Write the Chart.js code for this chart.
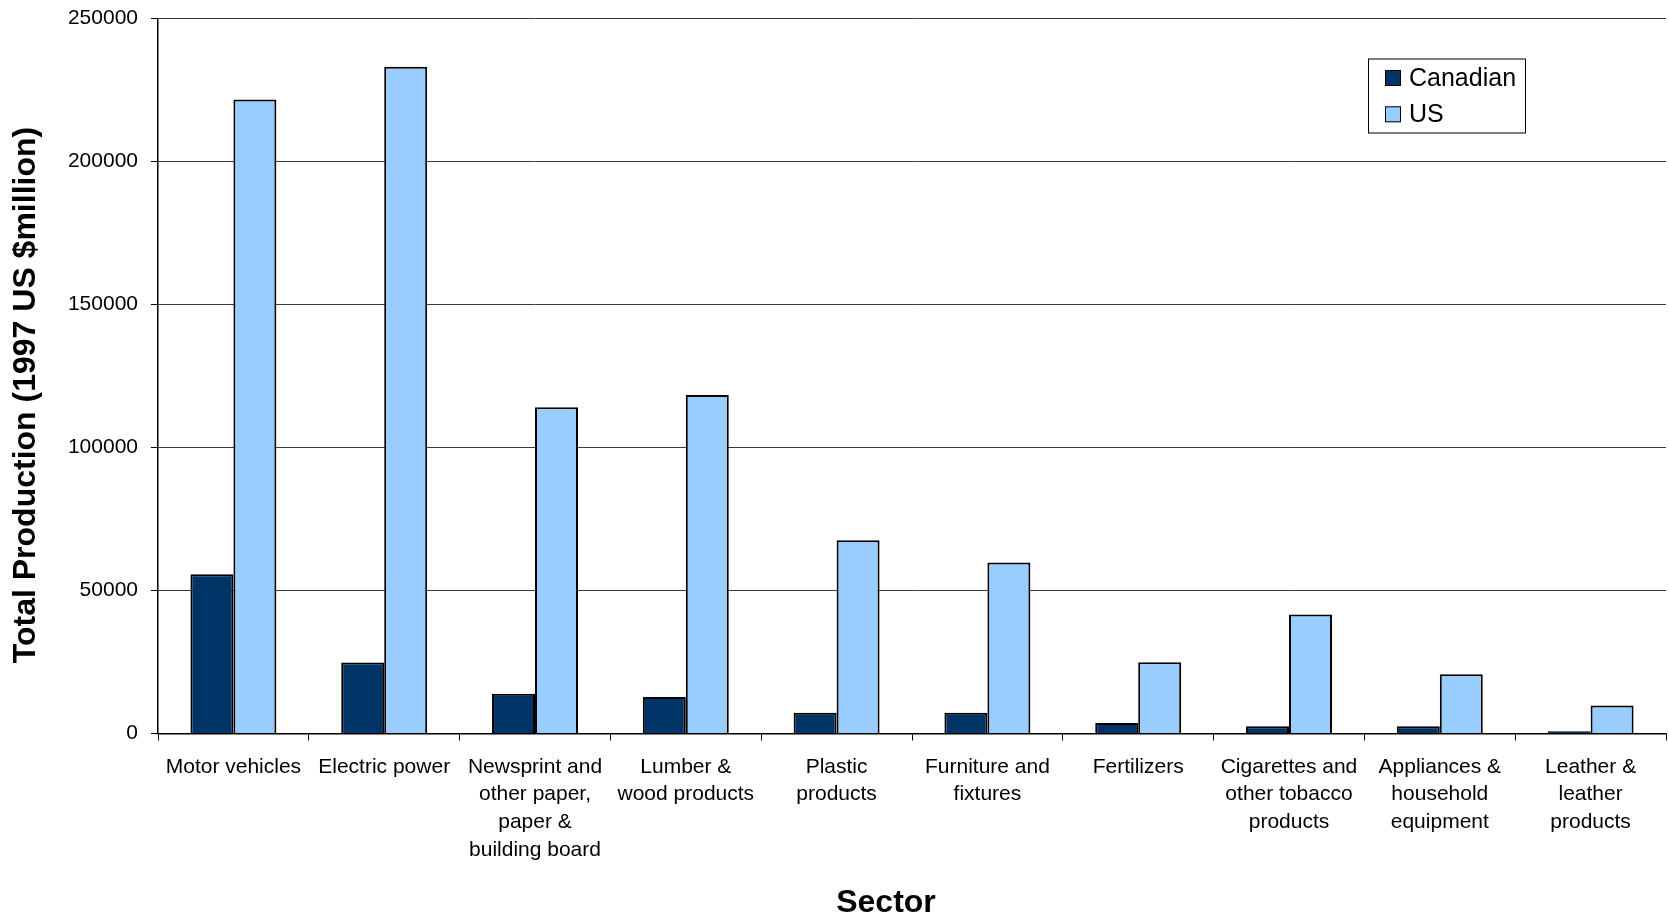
<!DOCTYPE html>
<html>
<head>
<meta charset="utf-8">
<title>Total Production by Sector</title>
<script src="https://cdn.jsdelivr.net/npm/chart.js@4.4.1/dist/chart.umd.min.js"></script>
<style>
  html, body { margin: 0; padding: 0; background: #ffffff; }
  #wrap { width: 1669px; height: 915px; position: relative; }
  canvas { display: block; }
</style>
</head>
<body>
<div id="wrap"><canvas id="chart" width="1669" height="915"></canvas></div>
<script>
// Sectors (x-axis categories), each split into display lines
const sectors = [
  ['Motor vehicles'],
  ['Electric power'],
  ['Newsprint and', 'other paper,', 'paper &', 'building board'],
  ['Lumber &', 'wood products'],
  ['Plastic', 'products'],
  ['Furniture and', 'fixtures'],
  ['Fertilizers'],
  ['Cigarettes and', 'other tobacco', 'products'],
  ['Appliances &', 'household', 'equipment'],
  ['Leather &', 'leather', 'products']
];

// Total production, 1997 US $million
const canadian = [55700, 24800, 13900, 12800, 7300, 7300, 3700, 2500, 2500, 800];
const us = [221700, 233200, 114100, 118400, 67600, 59800, 24900, 41600, 20700, 9800];

const seriesNames = ['Canadian', 'US'];
const seriesColors = ['#003366', '#99CCFF'];

const yTicks = [0, 50000, 100000, 150000, 200000, 250000];
const yTitle = 'Total Production (1997 US $million)';
const xTitle = 'Sector';

const FONT = '"Liberation Sans", Arial, Helvetica, sans-serif';

// Boxed legend in the upper right of the plot
const boxedLegend = {
  id: 'boxedLegend',
  afterDraw(chart) {
    const ctx = chart.ctx;
    const x0 = 1368, y0 = 58.5, w = 157, h = 74;
    ctx.save();
    ctx.fillStyle = '#ffffff';
    ctx.fillRect(x0, y0, w, h);
    ctx.strokeStyle = '#000000';
    ctx.lineWidth = 1;
    ctx.strokeRect(x0 + 0.5, y0 + 0.5, w, h);
    ctx.font = '25px ' + FONT;
    ctx.textBaseline = 'middle';
    ctx.textAlign = 'left';
    chart.data.datasets.forEach((ds, i) => {
      const cy = y0 + 19.5 + i * 36.3;
      ctx.fillStyle = ds.backgroundColor;
      ctx.fillRect(1385, cy - 8, 16, 16);
      ctx.strokeStyle = '#000000';
      ctx.strokeRect(1385.5, cy - 7.5, 15, 15);
      ctx.fillStyle = '#000000';
      ctx.fillText(ds.label, 1409, cy + 1);
    });
    ctx.restore();
  }
};

// Axis titles, placed relative to the whole chart figure
const axisTitles = {
  id: 'axisTitles',
  afterDraw(chart) {
    const ctx = chart.ctx;
    ctx.save();
    ctx.fillStyle = '#000000';
    ctx.font = 'bold 32px ' + FONT;
    ctx.textAlign = 'center';
    ctx.textBaseline = 'middle';
    ctx.fillText(xTitle, 886, 903);
    ctx.translate(26.5, 395);
    ctx.rotate(-Math.PI / 2);
    ctx.fillText(yTitle, 0, 0);
    ctx.restore();
  }
};

new Chart(document.getElementById('chart'), {
  type: 'bar',
  data: {
    labels: sectors,
    datasets: [
      {
        label: seriesNames[0],
        data: canadian,
        backgroundColor: seriesColors[0],
        borderColor: '#000000',
        borderWidth: 2
      },
      {
        label: seriesNames[1],
        data: us,
        backgroundColor: seriesColors[1],
        borderColor: '#000000',
        borderWidth: 2
      }
    ]
  },
  options: {
    responsive: false,
    maintainAspectRatio: false,
    animation: false,
    devicePixelRatio: 1,
    layout: { padding: { top: 18.7, right: 3, left: 0, bottom: 0 } },
    datasets: {
      bar: { categoryPercentage: 0.57, barPercentage: 1.0 }
    },
    plugins: {
      legend: { display: false },
      tooltip: { enabled: false }
    },
    scales: {
      x: {
        offset: true,
        grid: {
          display: true,
          offset: true,
          drawOnChartArea: false,
          drawTicks: true,
          tickLength: 7,
          color: '#000000',
          lineWidth: 1
        },
        border: { display: true, color: '#000000', width: 1.5 },
        ticks: {
          color: '#000000',
          font: { family: FONT, size: 21, lineHeight: 1.32 },
          padding: 12.5,
          maxRotation: 0,
          autoSkip: false
        },
        afterFit(scale) {
          scale.height = 181.5;
          scale.paddingLeft = 0;
          scale.paddingRight = 0;
        }
      },
      y: {
        min: 0,
        max: 250000,
        afterBuildTicks(scale) { scale.ticks = yTicks.map(v => ({ value: v })); },
        grid: {
          color: '#3a3a3a',
          lineWidth: 1,
          drawTicks: true,
          tickLength: 7,
          tickColor: '#000000'
        },
        border: { display: true, color: '#000000', width: 1.5 },
        ticks: {
          color: '#000000',
          font: { family: FONT, size: 21 },
          padding: 13,
          callback: (v) => String(v)
        },
        afterFit(scale) {
          scale.width = 158;
          scale.paddingTop = 0;
          scale.paddingBottom = 0;
        }
      }
    }
  },
  plugins: [boxedLegend, axisTitles]
});
</script>
</body>
</html>
